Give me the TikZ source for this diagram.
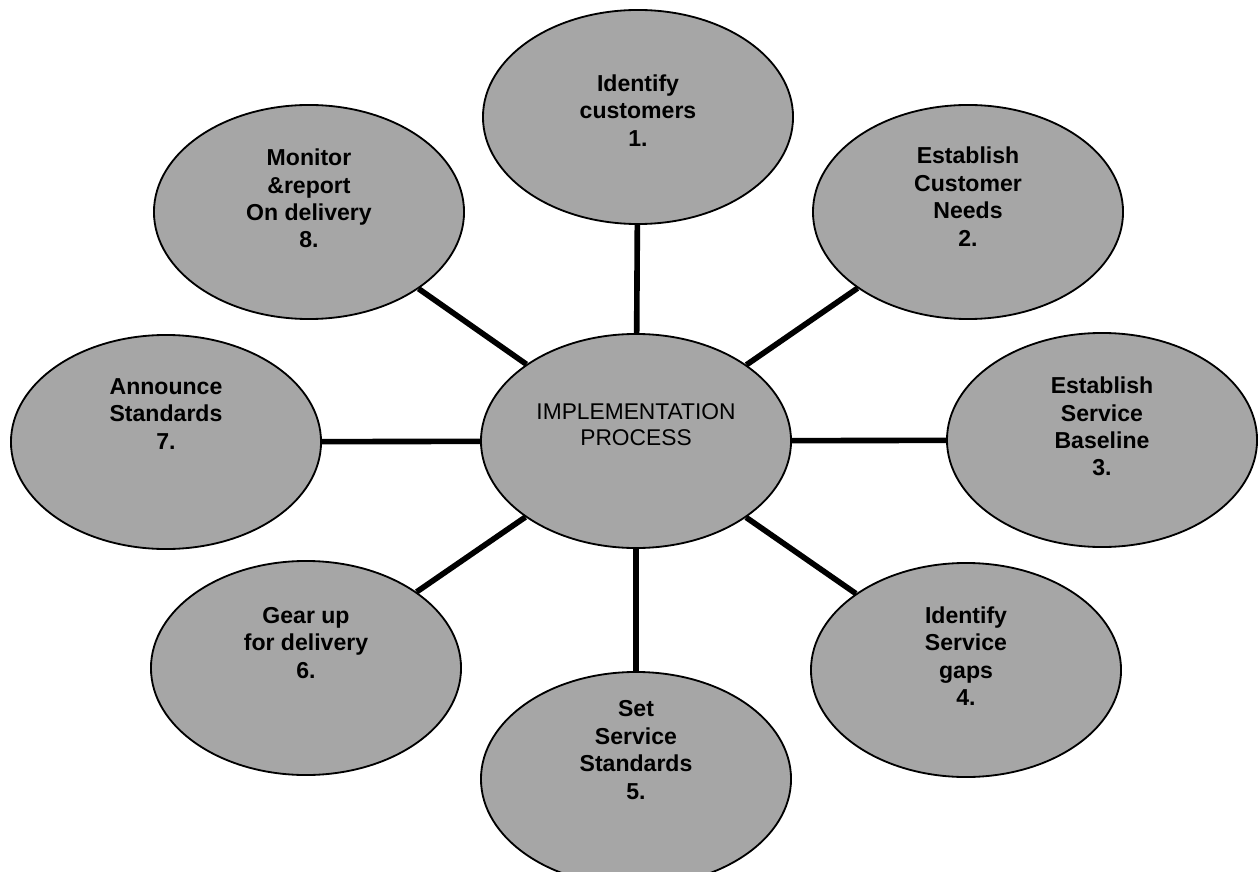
\documentclass[tikz,border=0pt]{standalone}
\usepackage{fontspec}
\setmainfont{Liberation Sans}
\usetikzlibrary{shapes.geometric}

\begin{document}
\begin{tikzpicture}[
  x=0.025cm, y=-0.025cm,
  bubble/.style={draw, ellipse, line width=1.3pt, fill=black!35, inner sep=0pt,
    minimum width=7.75cm, minimum height=5.35cm},
  words/.style={align=center, font=\bfseries\fontsize{16.4}{19.5}\selectfont},
  spoke/.style={line width=4pt}
]
\useasboundingbox (0,0) rectangle (1260,872);
% centre
\node[bubble] (hub) at (636,441) {};
\node[words, font=\fontsize{16.2}{18}\selectfont] (hub-t) at ([yshift=11.7pt]hub) {IMPLEMENTATION\\PROCESS};
% the eight steps, clockwise from the top
\node[bubble] (cust) at (638,117) {};
\node[words] (cust-t) at ([yshift=4.6pt]cust) {Identify\\customers\\1.};
\node[bubble] (needs) at (968,212) {};
\node[words] (needs-t) at ([yshift=11pt]needs) {Establish\\Customer\\Needs\\2.};
\node[bubble] (base) at (1102,440) {};
\node[words] (base-t) at ([yshift=9.6pt]base) {Establish\\Service\\Baseline\\3.};
\node[bubble] (gaps) at (966,670) {};
\node[words] (gaps-t) at ([yshift=10pt]gaps) {Identify\\Service\\gaps\\4.};
\node[bubble] (stand) at (636,779) {};
\node[words] (stand-t) at ([yshift=20.6pt]stand) {Set\\Service\\Standards\\5.};
\node[bubble] (gear) at (306,668) {};
\node[words] (gear-t) at ([yshift=17.8pt]gear) {Gear up\\for delivery\\6.};
\node[bubble] (annc) at (166,442) {};
\node[words] (annc-t) at ([yshift=20pt]annc) {Announce\\Standards\\7.};
\node[bubble] (mon) at (309,212) {};
\node[words] (mon-t) at ([yshift=9.6pt]mon) {Monitor\\\&report\\On delivery\\8.};
% spokes
\draw[spoke] (hub) -- (cust);
\draw[spoke] (hub) -- (needs);
\draw[spoke] (hub) -- (base);
\draw[spoke] (hub) -- (gaps);
\draw[spoke] (hub) -- (stand);
\draw[spoke] (hub) -- (gear);
\draw[spoke] (hub) -- (annc);
\draw[spoke] (hub) -- (mon);
\end{tikzpicture}
\end{document}
